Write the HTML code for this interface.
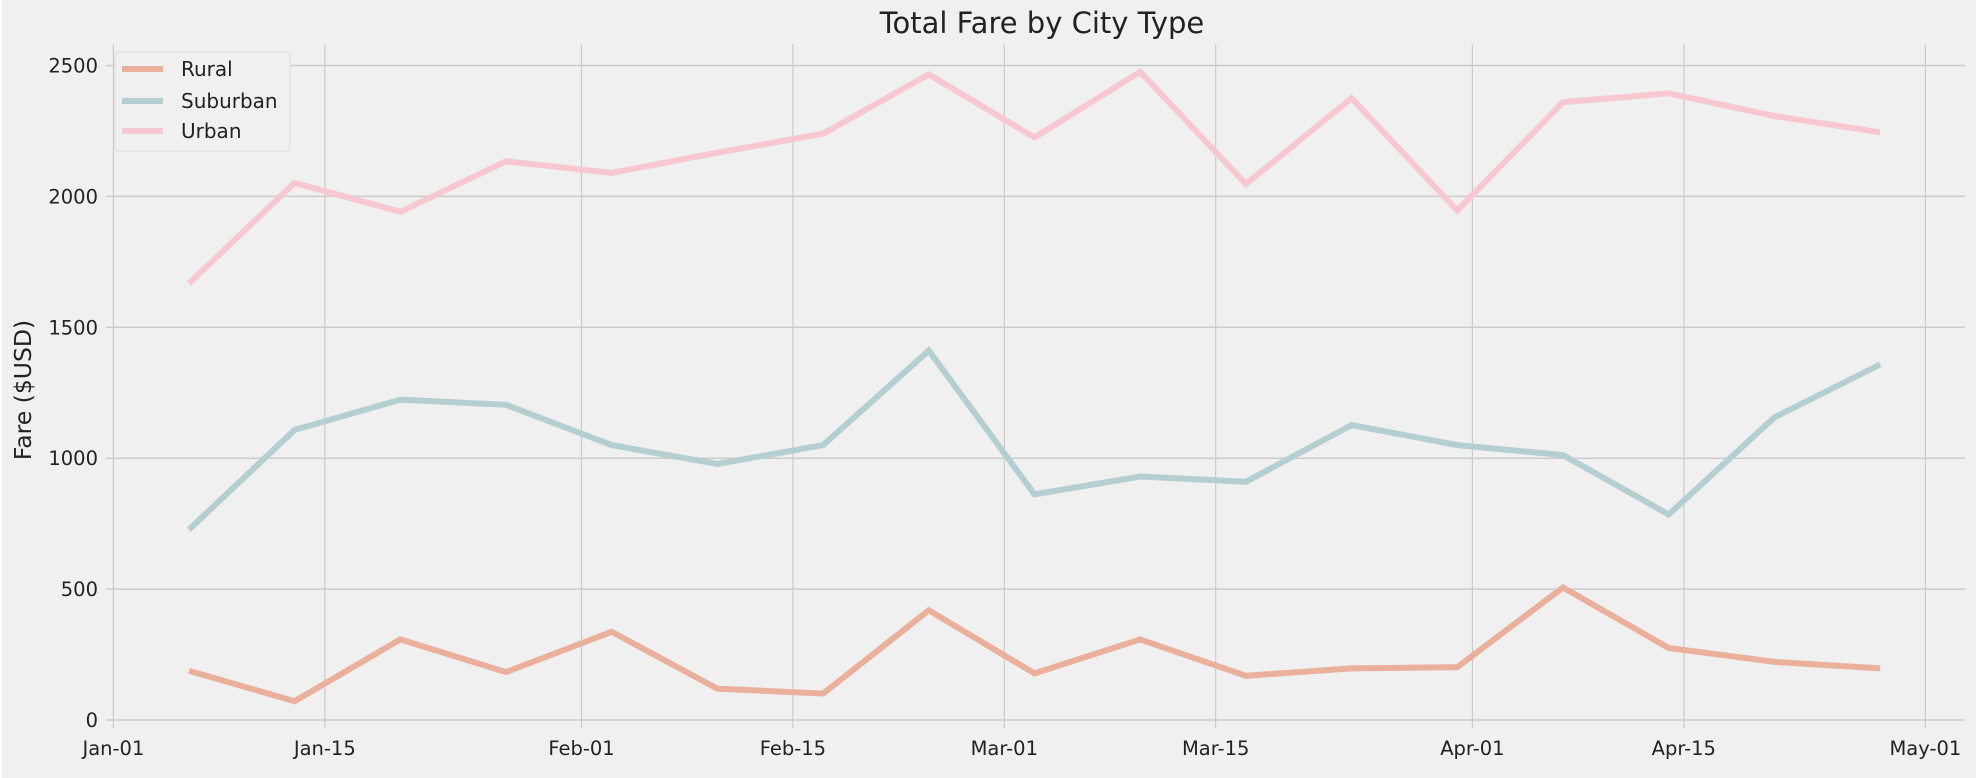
<!DOCTYPE html>
<html><head><meta charset="utf-8">
<style>
html,body{margin:0;padding:0;background:#f0f0f0;}
svg{display:block;}
text{font-family:"DejaVu Sans","Liberation Sans",sans-serif;fill:#222;}
</style></head>
<body>
<svg id="chart" width="1976" height="778" viewBox="0 0 1976 778" xmlns="http://www.w3.org/2000/svg">
<rect width="1976" height="778" fill="#f0f0f0"/>
<rect x="0" y="0" width="2" height="778" fill="#ffffff"/>
<text x="1042" y="33" text-anchor="middle" font-size="29">Total Fare by City Type</text>
<text transform="translate(31,390) rotate(-90)" text-anchor="middle" font-size="23.5">Fare ($USD)</text>
<g id="grid"></g>
<g id="lines"></g>
<g id="legend">
<rect x="115" y="52" width="175" height="99" rx="3" fill="#f0f0f0" stroke="#dcdcdc"/>
<line x1="122" y1="69" x2="163" y2="69" stroke="#ebb09c" stroke-width="6"/>
<text x="181" y="76" font-size="20">Rural</text>
<line x1="122" y1="101" x2="163" y2="101" stroke="#b4ced2" stroke-width="6"/>
<text x="181" y="108" font-size="20">Suburban</text>
<line x1="122" y1="131" x2="163" y2="131" stroke="#f8c8d0" stroke-width="6"/>
<text x="181" y="138" font-size="20">Urban</text>
</g>
</svg>
<script>
const dayOffsets=[5,12,19,26,33,40,47,54,61,68,75,82,89,96,103,110,117];
const ruralValues=[188,72,308,183,337,120,101,419,178,308,169,197,202,506,275,222,197];
const suburbanValues=[727,1108,1224,1204,1050,978,1050,1411,862,930,910,1127,1050,1012,785,1156,1358];
const urbanValues=[1667,2052,1941,2134,2090,2167,2240,2466,2225,2476,2047,2375,1946,2360,2394,2307,2245];
const xTickLabels=["Jan-01","Jan-15","Feb-01","Feb-15","Mar-01","Mar-15","Apr-01","Apr-15","May-01"];
const xTickDays=[0,14,31,45,59,73,90,104,120];
const yTicks=[0,500,1000,1500,2000,2500];

const NS="http://www.w3.org/2000/svg";
function xs(d){return 113.4+d*15.1;}
function ys(v){return 720-v*(654.5/2500);}
function mk(tag,attrs,parent){const e=document.createElementNS(NS,tag);for(const k in attrs)e.setAttribute(k,attrs[k]);parent.appendChild(e);return e;}
const grid=document.getElementById('grid');
yTicks.forEach(v=>{
  const l=mk('line',{x1:106,x2:1965,y1:ys(v),y2:ys(v),stroke:'#cbcbcb','stroke-width':1.5},grid);
  
  
  const t=mk('text',{x:98,y:ys(v)+7,'text-anchor':'end','font-size':19.5},grid);
  t.textContent=v;
  
  
});
xTickDays.forEach((d,i)=>{
  const l=mk('line',{x1:xs(d),x2:xs(d),y1:44,y2:728,stroke:'#cbcbcb','stroke-width':1.2},grid);
  
  
  const t=mk('text',{x:xs(d),y:755,'text-anchor':'middle','font-size':19.5},grid);
  t.textContent=xTickLabels[i];
  
  
});
const lines=document.getElementById('lines');
[[ruralValues,'#ebb09c','rural-line'],[suburbanValues,'#b4ced2','suburban-line'],[urbanValues,'#f8c8d0','urban-line']].forEach(s=>{
  const pts=s[0].map((v,i)=>xs(dayOffsets[i]).toFixed(1)+','+ys(v).toFixed(1)).join(' ');
  const p=mk('polyline',{points:pts,fill:'none',stroke:s[1],'stroke-width':6,'stroke-linejoin':'miter'},lines);
  
  
});
</script>
</body></html>
